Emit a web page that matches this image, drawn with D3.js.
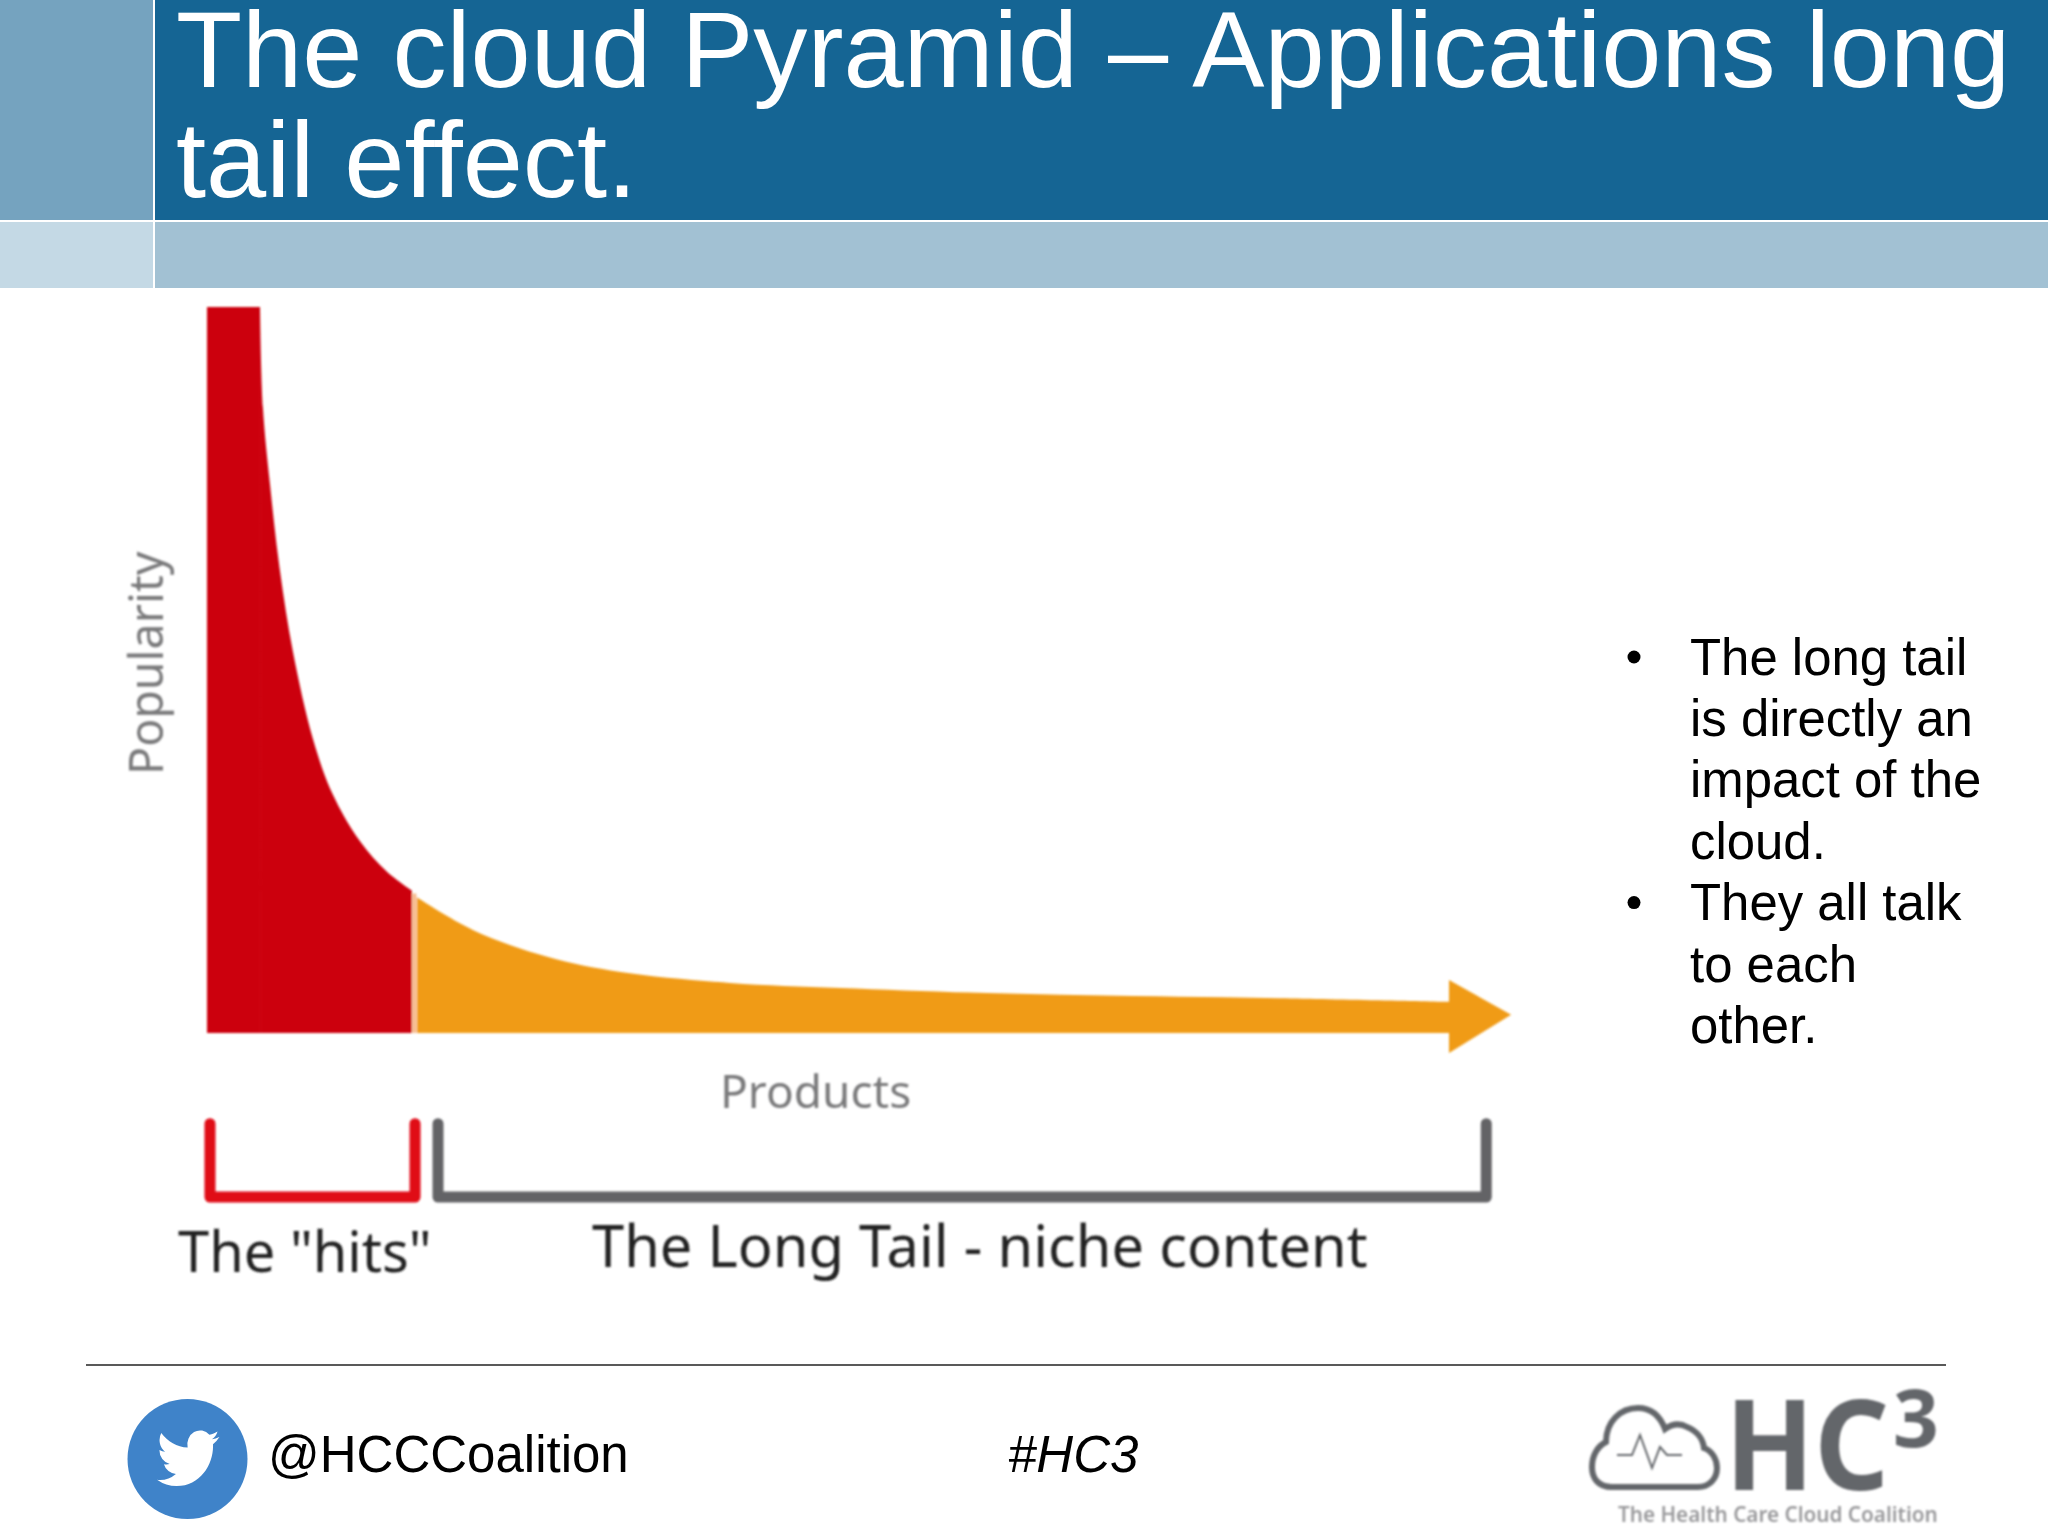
<!DOCTYPE html>
<html>
<head>
<meta charset="utf-8">
<script src="https://cdn.jsdelivr.net/npm/d3@7"></script>
<style>
html, body { margin: 0; padding: 0; background: #fff; }
svg { display: block; }
text { font-family: "Liberation Sans", Arial, sans-serif; }
.sketch { font-family: "Noto Sans", sans-serif; }
</style>
</head>
<body>
<svg id="chart" width="2048" height="1536"></svg>
<script>
// values: rank along the products axis, popularity 0-100
const hitsRank = [0, 4.27, 4.5, 5.07, 5.88, 6.92, 8.53, 10.14, 12.32, 14.49, 16.5];
const hitsPopularity = [100, 100, 86.2, 75.6, 63.6, 52.5, 40.5, 32.8, 26.4, 22.2, 19.6];
const tailRank = [16.9, 21.4, 27.4, 33.3, 42.1, 51, 62.8, 74.6, 86.4, 100];
const tailPopularity = [18.7, 14.2, 10.5, 8.4, 6.9, 6.2, 5.5, 5.1, 4.8, 4.3];
const arrowRank = [100, 105, 100];
const arrowPopularity = [7.3, 2.5, -2.75];
const hitsSpan = [0.24, 16.75];
const tailSpan = [18.6, 103];
const bracketDepth = [-12.5, -22.6];

const titleLines = ["The cloud Pyramid – Applications long", "tail effect."];
const bulletLines = [
    ["The long tail", "is directly an", "impact of the", "cloud."],
    ["They all talk", "to each", "other."]
];

const svg = d3.select("#chart");

// the original graphic is a soft raster pasted in the slide
svg.append("defs").append("filter")
    .attr("id", "soft")
    .attr("filterUnits", "userSpaceOnUse")
    .attr("x", 0).attr("y", 0).attr("width", 2048).attr("height", 1536)
    .append("feGaussianBlur").attr("stdDeviation", 0.8);

const x = d3.scaleLinear().domain([0, 100]).range([207, 1449]);
const y = d3.scaleLinear().domain([0, 100]).range([1033, 307]);

/* HEADER */
svg.append("rect").attr("x", 0).attr("y", 0).attr("width", 153).attr("height", 220).attr("fill", "#75a3bf");
svg.append("rect").attr("x", 155).attr("y", 0).attr("width", 1893).attr("height", 220).attr("fill", "#156594");
svg.append("rect").attr("x", 0).attr("y", 222).attr("width", 153).attr("height", 66).attr("fill", "#c4d9e5");
svg.append("rect").attr("x", 155).attr("y", 222).attr("width", 1893).attr("height", 66).attr("fill", "#a2c1d3");

svg.selectAll(".title").data(titleLines).join("text")
    .attr("class", "title")
    .attr("x", 176)
    .attr("y", (d, i) => 87 + i * 110)
    .attr("font-size", 108.2)
    .attr("fill", "#fff")
    .text(d => d);

/* CHART */
const art = svg.append("g").attr("filter", "url(#soft)");

const area = d3.area()
    .x(d => x(d[0]))
    .y0(y(0))
    .y1(d => y(d[1]))
    .curve(d3.curveCatmullRom.alpha(0.5));

const hitsPoints = hitsRank.map((r, i) => [r, hitsPopularity[i]]);

// flat top of the red block, then the curve
art.append("path")
    .datum(hitsPoints.slice(0, 2))
    .attr("d", area.curve(d3.curveLinear))
    .attr("fill", "#cc0011");
area.curve(d3.curveCatmullRom.alpha(0.5));

art.append("path")
    .datum(hitsPoints.slice(1))
    .attr("d", area)
    .attr("fill", "#cc0011");

art.append("path")
    .datum(tailRank.map((r, i) => [r, tailPopularity[i]]))
    .attr("d", area)
    .attr("fill", "#f09b18");

art.append("path")
    .datum(arrowRank.map((r, i) => [r, arrowPopularity[i]]))
    .attr("d", d3.line().x(d => x(d[0])).y(d => y(d[1])))
    .attr("fill", "#f09b18");

// pale seam between the two colours
art.append("line")
    .attr("x1", x(16.7)).attr("x2", x(16.7))
    .attr("y1", y(0)).attr("y2", y(19.2))
    .attr("stroke", "#f7b98a").attr("stroke-width", 4);

art.append("text").attr("class", "sketch")
    .attr("transform", "translate(163,775) rotate(-90)")
    .attr("font-size", 46.5).attr("fill", "#7a7a7c")
    .text("Popularity");

art.append("text").attr("class", "sketch")
    .attr("x", 720).attr("y", 1108)
    .attr("font-size", 46).attr("fill", "#7a7a7c")
    .text("Products");

// brackets under the axis
function bracket(span, color) {
    const p = d3.path();
    p.moveTo(x(span[0]), y(bracketDepth[0]));
    p.lineTo(x(span[0]), y(bracketDepth[1]));
    p.lineTo(x(span[1]), y(bracketDepth[1]));
    p.lineTo(x(span[1]), y(bracketDepth[0]));
    art.append("path")
        .attr("d", p.toString())
        .attr("fill", "none")
        .attr("stroke", color)
        .attr("stroke-width", 11)
        .attr("stroke-linejoin", "round")
        .attr("stroke-linecap", "round");
}
bracket(hitsSpan, "#e00712");
bracket(tailSpan, "#646366");

art.append("text").attr("class", "sketch")
    .attr("x", 178).attr("y", 1272)
    .attr("font-size", 56).attr("fill", "#222")
    .text('The "hits"');

art.append("text").attr("class", "sketch")
    .attr("x", 592).attr("y", 1267)
    .attr("font-size", 57.8).attr("fill", "#222")
    .text("The Long Tail - niche content");

/* BULLETS */
let lineNo = 0;
bulletLines.forEach(lines => {
    svg.append("circle")
        .attr("cx", 1634)
        .attr("cy", 657 + lineNo * 61.4)
        .attr("r", 6.5)
        .attr("fill", "#000");
    lines.forEach(t => {
        svg.append("text")
            .attr("x", 1690)
            .attr("y", 674.5 + lineNo * 61.4)
            .attr("font-size", 50.9)
            .text(t);
        lineNo++;
    });
});

/* FOOTER */
svg.append("line")
    .attr("x1", 86).attr("x2", 1946)
    .attr("y1", 1365).attr("y2", 1365)
    .attr("stroke", "#222").attr("stroke-width", 1.5);

svg.append("circle").attr("cx", 187.5).attr("cy", 1459).attr("r", 60).attr("fill", "#3f83c9");
svg.append("path")
    .attr("transform", "translate(157,1424) scale(2.6,2.85)")
    .attr("fill", "#fff")
    .attr("d", "M23.953 4.57a10 10 0 01-2.825.775 4.958 4.958 0 002.163-2.723c-.951.555-2.005.959-3.127 1.184a4.92 4.92 0 00-8.384 4.482C7.69 8.095 4.067 6.13 1.64 3.162a4.822 4.822 0 00-.666 2.475c0 1.71.87 3.213 2.188 4.096a4.904 4.904 0 01-2.228-.616v.06a4.923 4.923 0 003.946 4.827 4.996 4.996 0 01-2.212.085 4.936 4.936 0 004.604 3.417 9.867 9.867 0 01-6.102 2.105c-.39 0-.779-.023-1.17-.067a13.995 13.995 0 007.557 2.209c9.053 0 13.998-7.496 13.998-13.985 0-.21 0-.42-.015-.63A9.935 9.935 0 0024 4.59z");

svg.append("text").attr("x", 268).attr("y", 1471.5).attr("font-size", 51).text("@HCCCoalition");
svg.append("text").attr("x", 1008).attr("y", 1471.5).attr("font-size", 51).attr("font-style", "italic").text("#HC3");

// HC3 logo
const logoGrey = "#63666a";
const logo = svg.append("g").attr("filter", "url(#soft)");
logo.append("path")
    .attr("d", "M1612 1487 C1598 1487 1592 1478 1592 1467 C1592 1455 1598 1446 1606 1442 C1606 1422 1620 1408 1638 1408 C1651 1408 1660 1416 1665 1429 C1672 1424 1680 1423 1687 1427 C1697 1431 1703 1439 1704 1448 C1712 1451 1717 1459 1717 1468 C1717 1479 1709 1487 1698 1487 Z")
    .attr("fill", "none").attr("stroke", logoGrey).attr("stroke-width", 6);
logo.append("path")
    .attr("d", "M1617 1455 L1632 1455 L1640 1435 L1652 1468 L1660 1447 L1667 1455 L1682 1455")
    .attr("fill", "none").attr("stroke", logoGrey).attr("stroke-width", 2);
logo.append("text").attr("class", "sketch")
    .attr("x", 1725).attr("y", 1490)
    .attr("font-size", 126).attr("font-weight", 700).attr("fill", logoGrey)
    .attr("textLength", 164).attr("lengthAdjust", "spacingAndGlyphs")
    .text("HC");
logo.append("text").attr("class", "sketch")
    .attr("x", 1893).attr("y", 1447)
    .attr("font-size", 80).attr("font-weight", 700).attr("fill", logoGrey)
    .text("3");
logo.append("text").attr("class", "sketch")
    .attr("x", 1618).attr("y", 1522)
    .attr("font-size", 20.7).attr("font-weight", 600).attr("fill", "#9a9a9c")
    .text("The Health Care Cloud Coalition");
</script>
</body>
</html>
